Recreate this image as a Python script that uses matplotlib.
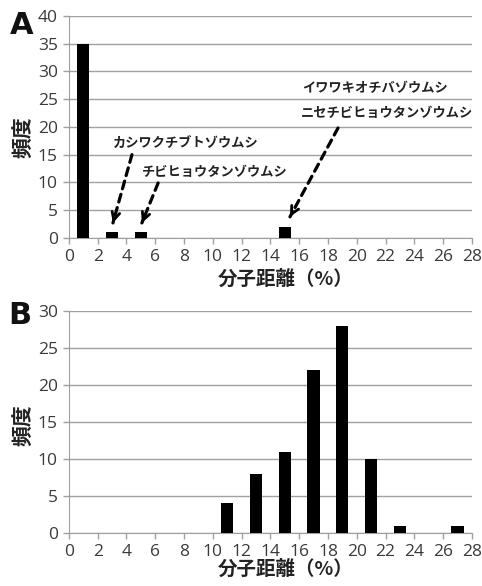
import matplotlib
matplotlib.use("Agg")
import matplotlib.pyplot as plt
from matplotlib.ticker import MultipleLocator

plt.rcParams['font.family'] = ['Open Sans', 'Noto Sans CJK JP', 'DejaVu Sans']

# Data
a_positions = [1, 3, 5, 15]
a_counts = [35, 1, 1, 2]
b_positions = [11, 13, 15, 17, 19, 21, 23, 27]
b_counts = [4, 8, 11, 22, 28, 10, 1, 1]
xlabel = "分子距離（%）"
ylabel = "頻度"
annot_labels = ["カシワクチブトゾウムシ", "チビヒョウタンゾウムシ",
                "イワワキオチバゾウムシ", "ニセチビヒョウタンゾウムシ"]

fig = plt.figure(figsize=(4.82, 5.86), dpi=100)
axA = fig.add_axes([0.143, 0.594, 0.836, 0.379])
axB = fig.add_axes([0.143, 0.0904, 0.836, 0.379])

grid_c = '#a0a0a0'
tick_c = '#3a3a3a'
cjk = ['Noto Sans CJK JP', 'DejaVu Sans']

def style(ax, ymax, ystep, ylabel_y, xlabel_off):
    ax.set_xlim(0, 28)
    ax.set_ylim(0, ymax)
    ax.xaxis.set_major_locator(MultipleLocator(2))
    ax.yaxis.set_major_locator(MultipleLocator(ystep))
    ax.grid(axis='y', color=grid_c, linewidth=1.0)
    ax.set_axisbelow(True)
    for s in ['top', 'right']:
        ax.spines[s].set_visible(False)
    ax.spines['left'].set_color(grid_c)
    ax.spines['bottom'].set_color(grid_c)
    ax.tick_params(axis='both', colors=grid_c, length=4, width=1,
                   labelcolor=tick_c, labelsize=12.5)
    ax.tick_params(axis='x', pad=4)
    ax.tick_params(axis='y', pad=4)
    ax.set_xlabel(xlabel, family=cjk, fontsize=14, fontweight='bold', color='#222222')
    ax.set_ylabel(ylabel, family=cjk, fontsize=15, fontweight='bold', color='#222222')
    ax.yaxis.set_label_coords(-0.088, ylabel_y)
    ax.xaxis.set_label_coords(0.538, xlabel_off)

axA.bar(a_positions, a_counts, width=0.85, color='black', zorder=3)
style(axA, 40, 5, 0.455, -0.145)
axB.bar(b_positions, b_counts, width=0.85, color='black', zorder=3)
style(axB, 30, 5, 0.486, -0.12)

fig.text(0.044, 0.957, "A", fontsize=22, fontweight='bold', ha='center', va='center', color='#111111', family='DejaVu Sans')
fig.text(0.042, 0.461, "B", fontsize=22, fontweight='bold', ha='center', va='center', color='#111111', family='DejaVu Sans')

tkw = dict(family=cjk, fontsize=9.5, fontweight='bold', color='#222222', va='center', ha='left')
axA.text(3.06, 17.1, annot_labels[0], **tkw)
axA.text(5.07, 11.9, annot_labels[1], **tkw)
axA.text(16.2, 27.0, annot_labels[2], **tkw)
axA.text(16.1, 22.5, annot_labels[3], **tkw)

line_kw = dict(arrowstyle='-', color='black', linestyle=(0, (2.5, 1.8)), linewidth=2.3,
               shrinkA=0, shrinkB=0)
head_kw = dict(arrowstyle='->', color='black', linewidth=2.0,
               mutation_scale=14, shrinkA=0, shrinkB=0)
arrows = [((3.06, 2.7), (4.38, 15.0)), ((5.07, 2.7), (6.2, 9.9)), ((15.36, 3.8), (18.7, 19.8))]
for tip, start in arrows:
    axA.annotate("", xy=tip, xytext=start, arrowprops=line_kw)
    # short solid head segment at the tip
    hx = tip[0] + (start[0] - tip[0]) * 0.06
    hy = tip[1] + (start[1] - tip[1]) * 0.06
    axA.annotate("", xy=tip, xytext=(hx, hy), arrowprops=head_kw)

fig.savefig("out.png", dpi=100)
